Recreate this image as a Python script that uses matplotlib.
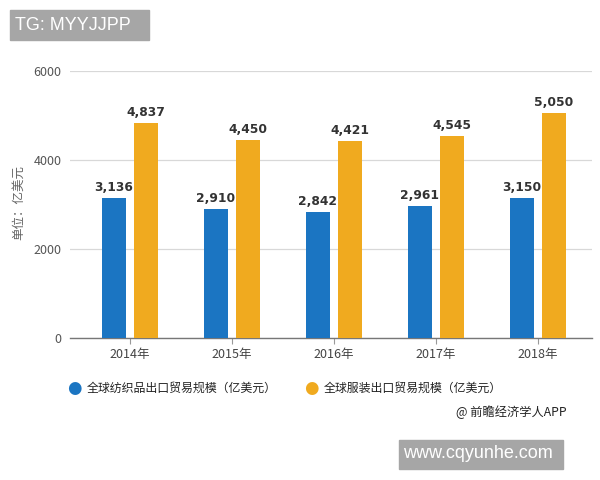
import matplotlib
matplotlib.use("Agg")
import matplotlib.pyplot as plt
from matplotlib.patches import Rectangle
import numpy as np

plt.rcParams['font.family'] = ['Noto Sans CJK SC', 'DejaVu Sans']

years = ["2014年", "2015年", "2016年", "2017年", "2018年"]
textile = [3136, 2910, 2842, 2961, 3150]
apparel = [4837, 4450, 4421, 4545, 5050]
series_names = ["全球纺织品出口贸易规模（亿美元）", "全球服装出口贸易规模（亿美元）"]
yticks = [0, 2000, 4000, 6000]

blue = "#1b75c2"
orange = "#f0aa1f"

W, H = 600, 480
fig = plt.figure(figsize=(6, 4.8), dpi=100)
ax_l, ax_r, ax_b, ax_t = 70, 592, 338.3, 70.7
ax = fig.add_axes([ax_l / W, 1 - ax_b / H, (ax_r - ax_l) / W, (ax_b - ax_t) / H])

x = np.arange(len(years))
off = 0.157
bw = 0.235
b1 = ax.bar(x - off, textile, bw, color=blue, zorder=3)
b2 = ax.bar(x + off, apparel, bw, color=orange, zorder=3)
for bars, vals in ((b1, textile), (b2, apparel)):
    for r, v in zip(bars, vals):
        ax.text(r.get_x() + r.get_width() / 2, v + 90, f"{v:,}", ha="center", va="bottom",
                fontsize=8.8, fontweight="bold", color="#333333", family="DejaVu Sans")

ax.set_xlim(-(130 - 70) / 102, 4 + (592 - 538) / 102)
ax.set_ylim(0, 6000)
ax.set_yticks(yticks)
ax.set_yticklabels([str(t) for t in yticks], fontsize=9, color="#555555")
ax.set_xticks(x)
ax.set_xticklabels(years, fontsize=9, color="#444444")
ax.tick_params(axis="y", length=0, pad=6)
ax.tick_params(axis="x", length=4, color="#999999", pad=3)
ax.grid(axis="y", color="#d8d8d8", linewidth=0.9, zorder=0)
for s in ("top", "right", "left"):
    ax.spines[s].set_visible(False)
ax.spines["bottom"].set_color("#777777")
ax.spines["bottom"].set_linewidth(1.0)

fig.text(19 / W, 1 - 203 / H, "单位：亿美元", rotation=90, ha="center", va="center",
         fontsize=9, color="#666666")

# legend
ly = 1 - 388 / H
fig.text(74 / W, ly, "●", color=blue, fontsize=12, ha="center", va="center", family="DejaVu Sans")
fig.text(87 / W, ly, series_names[0], fontsize=8.6, ha="left", va="center", color="#222222")
fig.text(311 / W, ly, "●", color=orange, fontsize=12, ha="center", va="center", family="DejaVu Sans")
fig.text(324 / W, ly, series_names[1], fontsize=8.6, ha="left", va="center", color="#222222")
fig.text(567 / W, 1 - 412 / H, "@ 前瞻经济学人APP", fontsize=8.8, ha="right", va="center", color="#222222")

# gray boxes
fig.add_artist(Rectangle((10 / W, 1 - 40 / H), 139 / W, 30 / H, transform=fig.transFigure,
                         color="#a6a6a6", zorder=5))
fig.text(15 / W, 1 - 25 / H, "TG: MYYJJPP", fontsize=13, color="white", ha="left", va="center",
         family="Liberation Sans", zorder=6)
fig.add_artist(Rectangle((399 / W, 1 - 469 / H), 164 / W, 29 / H, transform=fig.transFigure,
                         color="#a6a6a6", zorder=5))
fig.text(478 / W, 1 - 454 / H, "www.cqyunhe.com", fontsize=13, color="white", ha="center", va="center",
         family="Liberation Sans", zorder=6)

fig.savefig("out.png", dpi=100)
